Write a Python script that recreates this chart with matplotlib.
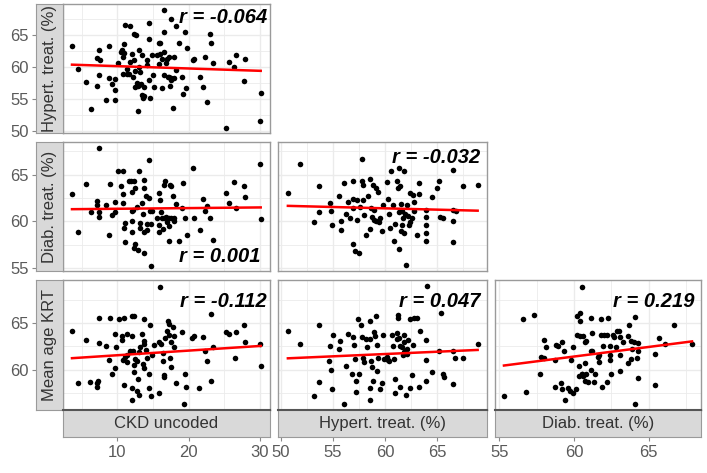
import numpy as np
import matplotlib
matplotlib.use('Agg')
import matplotlib.pyplot as plt

plt.rcParams['font.family'] = ['Liberation Sans', 'DejaVu Sans']

# --- data (one pair of lists per panel) ---
# Hypert. treat. vs CKD uncoded
ckd_a = [3.66, 4.45, 5.66, 6.3, 7.15, 7.4, 7.15, 7.6, 7.4, 8.4,
         8.9, 8.9, 9.25, 9.7, 9.7, 9.7, 10.05, 10.5, 10.7, 10.8,
         10.8, 11.0, 11.1, 11.8, 11.3, 11.6, 11.8, 12.05, 12.2, 12.3,
         12.65, 12.4, 12.75, 12.85, 12.95, 13.1, 13.1, 13.2, 13.45, 13.6,
         13.8, 13.45, 13.8, 14.15, 14.4, 14.5, 14.5, 14.6, 14.85, 15.0,
         15.8, 16.0, 16.0, 16.25, 16.25, 16.5, 16.6, 16.6, 16.6, 16.85,
         16.95, 17.1, 17.3, 17.4, 17.5, 17.5, 17.75, 17.9, 18.0, 18.2,
         18.2, 18.7, 19.1, 19.2, 19.5, 19.6, 19.8, 20.6, 20.8, 21.6,
         22.0, 22.3, 22.6, 23.0, 23.1, 23.4, 25.25, 25.7, 26.3, 26.6,
         27.8, 27.9, 30.05, 30.1, 11.0, 11.4, 12.5, 13.1, 13.3, 12.5,
         15.5, 15.9, 17.3, 17.6, 14.15, 15.2]
hyp_a = [63.2, 59.6, 57.7, 53.5, 57.0, 62.7, 61.4, 61.1, 58.8, 54.8,
         63.2, 58.2, 57.4, 56.4, 58.1, 54.8, 60.6, 62.3, 62.7, 61.5,
         58.9, 63.6, 66.5, 66.4, 58.9, 58.9, 60.8, 62.05, 58.5, 65.1,
         64.9, 61.0, 57.5, 57.0, 53.1, 62.7, 60.0, 59.2, 55.6, 55.1,
         55.5, 61.8, 56.8, 61.1, 66.8, 64.4, 58.0, 55.1, 61.8, 58.7,
         63.7, 63.8, 62.05, 61.3, 56.7, 62.3, 68.8, 65.5, 58.7, 60.6,
         61.3, 58.5, 61.5, 57.0, 67.4, 58.0, 53.6, 58.2, 61.5, 66.4,
         59.5, 63.7, 58.5, 55.8, 65.5, 56.7, 63.0, 61.1, 61.3, 58.5,
         56.8, 61.6, 54.6, 65.1, 63.7, 60.6, 50.5, 60.7, 60.0, 61.8,
         57.8, 61.3, 51.6, 56.0, 62.2, 59.7, 59.4, 57.2, 57.4, 56.9,
         61.8, 60.5, 58.4, 58.2, 60.3, 56.9]

# Diab. treat. vs CKD uncoded
ckd_b = [3.66, 4.45, 5.66, 6.3, 7.15, 7.15, 7.4, 7.5, 7.5, 8.45,
         9.0, 8.9, 9.25, 9.7, 9.7, 10.05, 10.8, 10.5, 10.8, 10.8,
         11.1, 11.1, 11.6, 11.9, 12.05, 12.05, 12.05, 12.4, 12.5, 12.2,
         12.5, 12.3, 12.85, 13.1, 13.2, 13.2, 13.45, 13.6, 13.7, 13.8,
         13.8, 14.05, 14.15, 14.15, 14.4, 14.5, 14.6, 14.7, 14.7, 15.8,
         15.9, 16.0, 16.1, 16.25, 16.4, 16.6, 16.7, 16.85, 16.95, 17.2,
         17.3, 17.4, 17.6, 17.8, 17.9, 18.0, 18.25, 18.6, 19.1, 19.2,
         19.5, 19.8, 20.6, 20.8, 21.6, 22.0, 22.3, 22.6, 23.0, 23.4,
         25.25, 25.7, 26.4, 26.6, 27.8, 27.9, 30.05, 30.1,
         14.85, 15.5, 16.5, 15.9, 17.5, 11.0, 12.75, 12.05, 13.7, 17.3]
diab_b = [62.9, 58.9, 64.0, 61.0, 62.2, 61.8, 61.0, 60.5, 67.9, 61.8,
          64.0, 58.6, 60.7, 62.1, 61.0, 65.4, 65.4, 63.75, 62.9, 62.0,
          59.8, 57.8, 64.3, 64.3, 60.0, 58.9, 63.1, 64.3, 63.6, 61.25,
          57.6, 57.2, 56.9, 65.4, 59.8, 59.3, 62.0, 60.8, 56.6, 64.4,
          63.6, 62.7, 59.7, 59.1, 66.6, 62.5, 61.1, 59.7, 55.2, 63.0,
          58.9, 62.3, 61.0, 60.35, 59.2, 63.9, 64.3, 60.5, 59.9, 60.4,
          57.9, 63.9, 63.75, 62.7, 60.4, 60.1, 61.9, 57.9, 61.4, 64.1,
          60.4, 58.6, 65.7, 60.4, 59.1, 62.4, 61.1, 61.7, 60.4, 58.0,
          63.0, 62.0, 64.2, 61.4, 63.75, 62.6, 66.1, 60.3,
          61.1, 60.4, 60.4, 59.6, 60.4, 59.3, 61.6, 61.1, 58.9, 59.5]

# Diab. treat. vs Hypert. treat.
hyp_c = [50.65, 51.8, 53.2, 53.6, 53.6, 54.7, 54.8, 54.9, 55.6, 55.8,
         56.0, 56.2, 56.45, 56.9, 57.1, 57.5, 56.9, 56.9, 56.9, 57.3,
         57.3, 57.8, 57.8, 57.9, 57.9, 58.0, 58.2, 58.4, 58.5, 58.6,
         58.7, 58.8, 58.9, 59.1, 59.1, 59.3, 59.4, 58.5, 59.7, 59.8,
         60.2, 60.3, 60.4, 60.6, 60.8, 60.9, 61.0, 61.1, 61.2, 61.3,
         61.3, 61.3, 61.4, 61.5, 61.5, 61.6, 61.7, 61.8, 61.8, 61.9,
         62.0, 62.1, 62.2, 62.4, 62.4, 62.6, 62.7, 62.8, 63.1, 63.3,
         63.3, 63.9, 63.9, 63.9, 63.9, 63.9, 64.5, 65.0, 65.2, 65.3,
         65.6, 66.5, 66.5, 66.5, 66.5, 66.8, 67.5, 68.9,
         58.9, 56.6, 57.6, 59.5, 60.5, 62.3, 62.8, 61.6, 55.8]
diab_c = [63.0, 66.1, 59.9, 61.0, 63.75, 62.0, 61.1, 59.6, 62.7, 59.1,
          64.1, 60.8, 62.1, 57.6, 56.8, 56.6, 64.3, 62.4, 61.4, 62.3,
          60.2, 66.7, 64.3, 63.9, 62.3, 60.7, 58.6, 62.7, 64.5, 61.4,
          60.5, 63.9, 60.2, 60.0, 63.6, 63.1, 59.9, 59.2, 59.0, 61.8,
          64.2, 62.4, 60.8, 65.4, 61.8, 57.9, 59.7, 64.3, 63.6, 65.7,
          61.0, 57.1, 63.75, 59.0, 61.9, 61.1, 60.4, 58.75, 65.4, 60.8,
          55.3, 61.8, 60.6, 63.0, 59.9, 60.4, 62.8, 62.1, 58.6, 64.1,
          62.9, 61.25, 60.5, 59.6, 58.75, 57.9, 62.6, 63.6, 64.3, 60.5,
          60.35, 65.5, 61.25, 60.1, 57.8, 61.1, 63.75, 63.9,
          61.25, 60.4, 61.5, 60.4, 59.3, 59.6, 61.1, 59.6, 60.1]

# Mean age KRT vs CKD uncoded
ckd_d = [3.66, 4.45, 5.66, 6.2, 7.15, 7.25, 7.15, 7.5, 7.5, 8.45,
         8.9, 9.0, 9.25, 9.7, 9.7, 9.85, 10.3, 10.6, 10.6, 10.8,
         11.0, 11.0, 11.3, 11.3, 11.4, 12.05, 12.4, 12.05, 11.8, 12.05,
         12.05, 12.3, 12.5, 12.75, 13.0, 12.85, 13.1, 13.2, 13.45, 13.6,
         13.7, 13.8, 13.8, 14.05, 14.15, 14.5, 14.5, 14.6, 14.7, 14.85,
         15.8, 15.9, 16.0, 16.1, 16.4, 16.4, 16.5, 16.6, 16.7, 16.95,
         17.05, 17.2, 17.3, 17.4, 17.5, 17.8, 17.9, 18.0, 18.25, 19.1,
         19.3, 19.5, 19.7, 20.45, 20.75, 21.5, 22.0, 22.3, 22.6, 23.1,
         23.2, 23.4, 25.25, 25.7, 26.5, 26.6, 27.8, 27.9, 30.05, 30.1,
         12.3, 12.75, 13.8, 11.1, 17.6, 15.1, 12.2]
age_d = [64.2, 58.6, 63.2, 58.7, 58.6, 58.8, 58.2, 65.5, 62.9, 62.5,
         61.0, 65.5, 59.5, 63.8, 60.2, 62.4, 65.4, 63.6, 63.2, 61.0,
         65.5, 58.4, 63.8, 61.6, 60.8, 65.8, 65.8, 63.6, 62.0, 58.0,
         56.8, 59.8, 61.1, 57.7, 57.3, 59.0, 61.9, 62.4, 63.8, 60.6,
         65.4, 63.1, 62.75, 62.1, 61.3, 58.0, 59.6, 64.75, 57.25, 61.6,
         63.0, 57.5, 68.9, 62.75, 61.8, 60.9, 59.4, 59.2, 63.4, 64.2,
         65.25, 63.7, 64.9, 61.3, 60.25, 64.6, 63.6, 62.4, 58.6, 64.0,
         56.3, 59.5, 58.2, 63.4, 63.6, 58.0, 63.5, 62.0, 60.9, 66.0,
         58.75, 62.4, 64.0, 63.8, 61.3, 64.0, 64.8, 63.0, 62.75, 60.4,
         60.5, 60.9, 60.2, 61.4, 63.0, 62.7, 62.0]

# Mean age KRT vs Hypert. treat.
hyp_e = [50.65, 51.8, 53.2, 53.6, 53.6, 54.6, 54.7, 54.8, 54.9, 54.95,
         55.6, 55.7, 56.0, 56.2, 56.45, 56.8, 56.9, 56.97, 57.2, 57.2,
         57.4, 57.5, 57.7, 57.8, 57.9, 57.95, 58.2, 58.3, 58.5, 58.5,
         58.5, 58.6, 58.7, 58.8, 58.9, 59.0, 59.1, 59.2, 59.3, 59.5,
         59.7, 59.8, 60.2, 60.3, 60.4, 60.7, 60.8, 60.9, 61.0, 61.0,
         61.1, 61.2, 61.2, 61.3, 61.45, 61.45, 61.6, 61.7, 61.8, 61.8,
         61.9, 62.0, 62.1, 62.2, 62.4, 62.4, 62.6, 62.7, 62.8, 63.1,
         63.3, 63.4, 63.9, 63.9, 63.9, 64.0, 64.5, 65.2, 65.4, 65.6,
         65.7, 66.5, 66.5, 66.7, 67.5, 68.9,
         61.1, 61.8, 58.5, 59.2, 57.1, 59.9, 62.1]
age_e = [64.2, 62.75, 57.25, 58.7, 64.75, 60.9, 62.5, 60.0, 57.9, 63.75,
         62.25, 63.1, 56.3, 60.4, 63.8, 59.5, 63.5, 62.7, 58.8, 57.6,
         65.4, 59.5, 64.75, 63.5, 61.25, 60.8, 63.3, 62.4, 56.8, 58.0,
         65.2, 60.9, 60.25, 58.8, 64.0, 63.6, 65.7, 59.9, 61.25, 57.9,
         58.6, 63.7, 61.4, 61.0, 60.9, 63.75, 62.5, 61.2, 59.0, 57.5,
         63.9, 65.9, 65.5, 63.4, 62.5, 58.2, 62.4, 61.6, 63.75, 61.9,
         62.0, 57.3, 61.7, 63.2, 58.1, 65.4, 59.4, 62.7, 65.5, 65.5,
         58.2, 64.2, 63.2, 61.0, 58.8, 69.0, 59.75, 62.0, 66.1, 59.5,
         59.2, 62.0, 58.5, 61.3, 61.25, 62.75,
         63.3, 63.0, 63.25, 62.7, 61.1, 61.1, 62.2]

# Mean age KRT vs Diab. treat.
diab_f = [55.3, 56.6, 56.8, 57.3, 57.7, 57.8, 57.95, 58.0, 58.1, 58.7,
          58.7, 58.8, 58.9, 59.1, 59.2, 59.2, 59.3, 59.4, 59.6, 59.7,
          59.8, 59.9, 59.95, 60.1, 60.2, 60.2, 60.3, 60.3, 60.4, 60.4,
          60.4, 60.5, 60.5, 60.6, 60.6, 60.7, 60.7, 60.8, 60.8, 60.9,
          61.1, 61.1, 61.1, 61.2, 61.3, 61.4, 61.7, 61.7, 61.8, 61.8,
          61.9, 61.95, 62.0, 62.2, 62.2, 62.3, 62.4, 62.4, 62.5, 62.6,
          62.7, 62.8, 62.9, 63.0, 63.1, 63.1, 63.3, 63.6, 63.6, 63.7,
          63.8, 63.8, 63.9, 64.0, 64.05, 64.1, 64.2, 64.3, 64.3, 64.3,
          65.4, 65.4, 65.7, 66.1, 66.7, 67.9,
          60.7, 61.2, 61.6, 63.1, 62.4, 60.5]
age_f = [57.25, 65.4, 57.6, 65.9, 59.5, 61.4, 61.3, 63.2, 62.4, 61.0,
         58.2, 62.7, 62.5, 58.6, 63.0, 57.9, 62.0, 56.8, 58.0, 57.7,
         61.0, 57.5, 62.4, 57.9, 65.7, 63.75, 59.3, 60.4, 63.6, 65.25,
         66.1, 68.9, 59.5, 63.6, 59.3, 58.8, 60.7, 59.5, 63.1, 58.7,
         65.5, 60.0, 62.0, 63.9, 58.7, 59.6, 61.6, 60.8, 65.4, 63.7,
         58.2, 62.5, 63.75, 63.7, 58.7, 65.5, 61.0, 62.5, 59.6, 63.75,
         63.5, 62.4, 64.2, 64.2, 63.5, 59.9, 63.0, 63.6, 60.7, 64.8,
         61.1, 63.1, 62.25, 63.0, 65.6, 56.3, 61.25, 62.0, 59.1, 62.9,
         61.7, 58.4, 63.4, 62.75, 64.75, 62.75,
         63.0, 62.0, 61.4, 61.6, 61.6, 59.6]

r_labels = ['r = -0.064', 'r = 0.001', 'r = -0.032',
            'r = -0.112', 'r = 0.047', 'r = 0.219']

row_names = ['Hypert. treat. (%)', 'Diab. treat. (%)', 'Mean age KRT']
col_names = ['CKD uncoded', 'Hypert. treat. (%)', 'Diab. treat. (%)']

# --- layout (pixels of a 707x473 picture) ---
W, H = 707, 473
fig = plt.figure(figsize=(W / 100, H / 100), dpi=100)


def px_box(x0, y0, x1, y1):
    return [x0 / W, 1 - y1 / H, (x1 - x0) / W, (y1 - y0) / H]


col_px = [(63, 270), (278, 487), (495, 701)]
row_px = [(4, 133), (142, 271), (280, 410)]

col_lims = [(2.4, 31.4), (49.7, 69.8), (54.7, 68.5)]
row_lims = [(49.7, 69.8), (54.7, 68.5), (55.7, 69.6)]
col_ticks = [[10, 20, 30], [50, 55, 60, 65], [55, 60, 65]]
row_ticks = [[50, 55, 60, 65], [55, 60, 65], [60, 65]]
col_minor = [[5, 15, 25], [52.5, 57.5, 62.5, 67.5], [57.5, 62.5, 67.5]]
row_minor = [[52.5, 57.5, 62.5, 67.5], [57.5, 62.5, 67.5], [57.5, 62.5, 67.5]]

panels = [
    (0, 0, ckd_a, hyp_a, (0.985, 0.97), 'top'),
    (1, 0, ckd_b, diab_b, (0.955, 0.04), 'bottom'),
    (1, 1, hyp_c, diab_c, (0.97, 0.95), 'top'),
    (2, 0, ckd_d, age_d, (0.985, 0.91), 'top'),
    (2, 1, hyp_e, age_e, (0.97, 0.91), 'top'),
    (2, 2, diab_f, age_f, (0.97, 0.91), 'top'),
]

edge = '#9A9A9A'
grid_col = '#EBEBEB'
tick_col = '#5A5A5A'

for k, (r, c, x, y, pos, va) in enumerate(panels):
    x0, x1 = col_px[c]
    y0, y1 = row_px[r]
    ax = fig.add_axes(px_box(x0, y0, x1, y1))
    ax.set_xlim(col_lims[c])
    ax.set_ylim(row_lims[r])
    ax.set_xticks(col_ticks[c])
    ax.set_yticks(row_ticks[r])
    ax.set_xticks(col_minor[c], minor=True)
    ax.set_yticks(row_minor[r], minor=True)
    ax.grid(True, which='major', color=grid_col, lw=1.0)
    ax.grid(True, which='minor', color=grid_col, lw=0.6)
    ax.set_axisbelow(True)
    ax.tick_params(which='both', length=0, labelbottom=False, labelleft=False)
    for s in ax.spines.values():
        s.set_color(edge)
        s.set_linewidth(1.0)

    ax.scatter(x, y, s=16, color='black', linewidths=0, zorder=3)
    slope, icpt = np.polyfit(x, y, 1)
    xs = np.array([min(x), max(x)])
    ax.plot(xs, slope * xs + icpt, color='red', lw=1.8, zorder=4)

    ax.text(pos[0], pos[1], r_labels[k], transform=ax.transAxes,
            ha='right', va=va, fontsize=14.5, fontweight='bold',
            fontstyle='italic', color='black', zorder=5)

# strips on the left with the y axis
for r in range(3):
    y0, y1 = row_px[r]
    sax = fig.add_axes(px_box(36, y0, 63, y1))
    sax.set_facecolor('#D9D9D9')
    sax.set_ylim(row_lims[r])
    sax.set_yticks(row_ticks[r])
    sax.set_xticks([])
    sax.tick_params(axis='y', length=3, width=0.8, color='#888888',
                    labelsize=12, labelcolor=tick_col, pad=2)
    for s in sax.spines.values():
        s.set_color(edge)
    sax.text(0.5, 0.5, row_names[r], transform=sax.transAxes, rotation=90,
             ha='center', va='center', fontsize=12, color='#333333')

# strips below with the x axis
for c in range(3):
    x0, x1 = col_px[c]
    bax = fig.add_axes(px_box(x0, 410, x1, 437))
    bax.set_facecolor('#D9D9D9')
    bax.set_xlim(col_lims[c])
    bax.set_xticks(col_ticks[c])
    bax.set_yticks([])
    bax.tick_params(axis='x', length=3, width=0.8, color='#888888',
                    labelsize=12, labelcolor=tick_col, pad=3)
    for s in bax.spines.values():
        s.set_color(edge)
    bax.spines['top'].set_color('#555555')
    bax.spines['top'].set_linewidth(1.5)
    bax.text(0.5, 0.5, col_names[c], transform=bax.transAxes,
             ha='center', va='center', fontsize=12, color='#333333')

fig.savefig('out.png', dpi=100)
